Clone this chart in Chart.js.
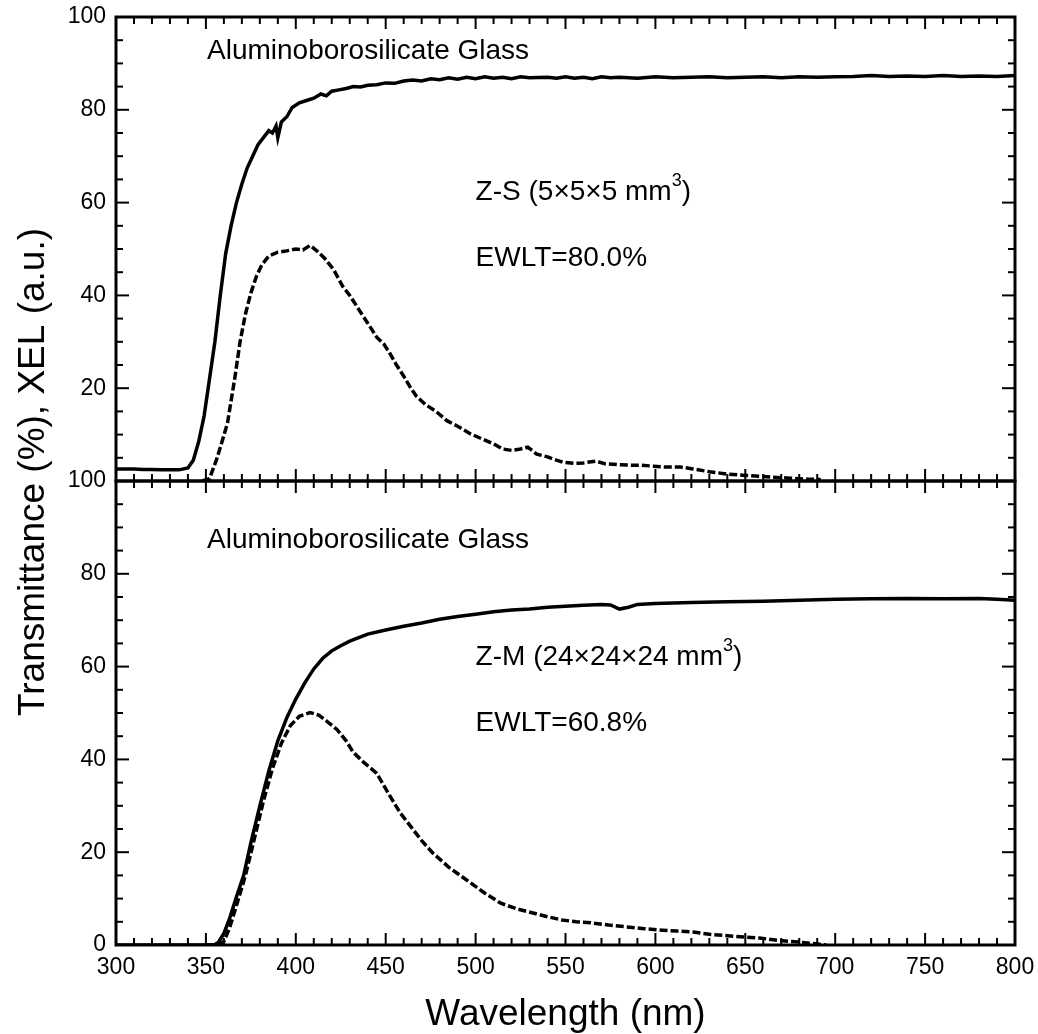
<!DOCTYPE html>
<html>
<head>
<meta charset="utf-8">
<script src="https://cdn.jsdelivr.net/npm/chart.js@4.4.1/dist/chart.umd.min.js"></script>
<style>
  html, body { margin: 0; padding: 0; background: #fff; }
  #wrap { position: relative; width: 1038px; height: 1034px; }
</style>
</head>
<body>
<div id="wrap"><canvas id="myChart" width="1038" height="1034"></canvas></div>
<script>
// tick labels
const xTickLabels = [300, 350, 400, 450, 500, 550, 600, 650, 700, 750, 800];
const yTickLabels = [0, 20, 40, 60, 80, 100];

// Z-S (top panel): transmittance, solid
const tsWl = [300, 305, 310, 315, 320, 325, 330, 335, 340, 343, 346, 349, 352, 355, 358, 361, 364, 367, 370, 373,
  376, 379, 382, 385, 387, 389, 390, 392, 395, 398, 402, 406, 410, 414, 417, 420, 424, 428, 432, 436,
  440, 445, 450, 455, 460, 465, 470, 475, 480, 485, 490, 495, 500, 505, 510, 515, 520, 525, 530, 540,
  545, 550, 555, 560, 565, 570, 575, 580, 590, 600, 610, 620, 630, 640, 650, 660, 670, 680, 690, 700,
  710, 720, 730, 740, 750, 760, 770, 780, 790, 800];
const tsVal = [2.6, 2.6, 2.6, 2.5, 2.5, 2.4, 2.4, 2.4, 2.8, 4.5, 8.5, 14, 22, 30, 40, 49, 55, 60, 64, 67.5,
  70, 72.5, 74, 75.5, 75, 76.5, 74, 77.4, 78.5, 80.5, 81.5, 82, 82.5, 83.4, 83, 84, 84.3, 84.6, 85, 84.9,
  85.3, 85.4, 85.8, 85.7, 86.2, 86.4, 86.2, 86.7, 86.5, 86.9, 86.6, 87, 86.7, 87.1, 86.8, 87, 86.7, 87.1, 86.9, 87,
  86.8, 87.1, 86.8, 87, 86.7, 87.1, 86.9, 87, 86.8, 87.1, 86.9, 87, 87.1, 86.9, 87, 87.1, 86.9, 87.1, 87, 87.1,
  87.2, 87.4, 87.2, 87.3, 87.2, 87.4, 87.2, 87.3, 87.2, 87.4];

// Z-S (top panel): XEL, dashed
const xsWl = [348, 352, 356, 359, 362, 366, 369, 372, 375, 378, 381, 385, 390, 395, 400, 404, 408, 412, 416, 421,
  426, 430, 434, 440, 445, 449, 452, 456, 460, 464, 467, 472, 478, 484, 490, 497, 504, 510, 515, 520,
  525, 529, 534, 540, 545, 549, 555, 560, 567, 572, 580, 586, 592, 599, 606, 614, 621, 630, 640, 650,
  662, 675, 685, 692];
const xsVal = [0, 0.5, 4.7, 8.5, 12.5, 22, 30, 36, 40.5, 44, 46.5, 48.5, 49.3, 49.6, 50, 49.8, 50.8, 49.5, 48, 45.6,
  42, 40, 37.6, 34, 31, 29.5, 27.7, 25, 22.6, 20, 18.3, 16.5, 15, 13, 11.8, 10.2, 9, 8, 6.9, 6.6,
  6.9, 7.3, 5.8, 5.2, 4.5, 4, 3.8, 3.9, 4.3, 3.7, 3.5, 3.4, 3.4, 3.2, 3, 3, 2.6, 2, 1.5, 1.2,
  0.9, 0.6, 0.4, 0.3];

// Z-M (bottom panel): transmittance, solid
const tmWl = [300, 350, 355, 357, 360, 363, 367, 371, 375, 380, 385, 390, 395, 400, 405, 410, 415, 420, 425, 430,
  440, 450, 460, 470, 480, 490, 500, 510, 520, 530, 540, 550, 560, 570, 575, 580, 585, 590, 600, 620,
  640, 660, 680, 700, 720, 740, 760, 780, 790, 800];
const tmVal = [0, 0, 0.1, 0.6, 2.5, 5.5, 10.4, 15, 22, 30, 37.5, 44, 49, 53, 56.5, 59.5, 61.8, 63.4, 64.5, 65.5,
  67, 67.9, 68.7, 69.4, 70.2, 70.8, 71.3, 71.8, 72.2, 72.4, 72.8, 73, 73.2, 73.4, 73.3, 72.4, 72.8, 73.4, 73.6, 73.8,
  74, 74.1, 74.3, 74.5, 74.6, 74.7, 74.6, 74.7, 74.5, 74.3];

// Z-M (bottom panel): XEL, dashed
const xmWl = [357, 360, 363, 367, 372, 377, 382, 387, 392, 397, 402, 408, 413, 418, 423, 428, 432, 438, 445, 451,
  458, 464, 470, 476, 485, 495, 505, 514, 523, 532, 540, 548, 556, 564, 574, 584, 594, 604, 612, 621,
  630, 640, 650, 658, 668, 678, 688, 695];
const xmVal = [0, 0.8, 3.5, 8.5, 15, 23, 31, 38, 43.5, 47.3, 49.3, 50.1, 49.5, 48, 46.4, 44, 41.5, 39.3, 37, 33,
  28.5, 25.5, 22.5, 19.9, 16.8, 14, 11.2, 9, 7.8, 6.9, 6.1, 5.4, 5, 4.8, 4.3, 3.9, 3.5, 3.2, 3, 2.8,
  2.3, 2, 1.7, 1.5, 1, 0.7, 0.3, 0];

// panel texts
const panelTexts = [
  { axis: "y1", x: 350.6, y: 92.7, text: "Aluminoborosilicate Glass" },
  { axis: "y1", x: 500, y: 62.3, text: "Z-S (5\u00d75\u00d75 mm", sup: "3", tail: ")" },
  { axis: "y1", x: 500, y: 48.1, text: "EWLT=80.0%" },
  { axis: "y2", x: 350.6, y: 87.3, text: "Aluminoborosilicate Glass" },
  { axis: "y2", x: 500, y: 62, text: "Z-M (24\u00d724\u00d724 mm", sup: "3", tail: ")" },
  { axis: "y2", x: 500, y: 47.7, text: "EWLT=60.8%" },
];

const FONT = "'Liberation Sans', Arial, Helvetica, sans-serif";

const toPoints = (wl, val) => wl.map((w, i) => ({ x: w, y: val[i] }));

// frame, inward ticks on all sides, and the texts
const frameTicks = {
  id: "frameTicks",
  afterDatasetsDraw(chart) {
    const ctx = chart.ctx;
    const xs = chart.scales.x;
    const area = chart.chartArea;
    const line = (x0, y0, x1, y1) => {
      ctx.beginPath();
      ctx.moveTo(x0, y0);
      ctx.lineTo(x1, y1);
      ctx.stroke();
    };
    ctx.save();
    ctx.strokeStyle = "#000";
    ctx.lineCap = "butt";
    ["y1", "y2"].forEach((id) => {
      const ys = chart.scales[id];
      const top = ys.top;
      const bottom = ys.bottom;
      ctx.lineWidth = 2;
      for (let v = xs.min; v <= xs.max; v += 10) {
        const px = xs.getPixelForValue(v);
        const len = v % 50 === 0 ? 12 : 7;
        line(px, top, px, top + len);
        line(px, bottom, px, bottom - len);
      }
      for (let v = ys.min; v <= ys.max; v += 5) {
        const py = ys.getPixelForValue(v);
        const len = v % 20 === 0 ? 13 : 7;
        line(area.left, py, area.left + len, py);
        line(area.right, py, area.right - len, py);
      }
      ctx.lineWidth = 3;
      ctx.strokeRect(area.left, top, area.right - area.left, bottom - top);
    });

    ctx.fillStyle = "#000";
    ctx.textAlign = "left";
    ctx.textBaseline = "middle";
    panelTexts.forEach((t) => {
      const px = xs.getPixelForValue(t.x);
      const py = chart.scales[t.axis].getPixelForValue(t.y);
      ctx.font = "28px " + FONT;
      ctx.fillText(t.text, px, py);
      if (t.sup) {
        let w = ctx.measureText(t.text).width;
        ctx.font = "18px " + FONT;
        ctx.fillText(t.sup, px + w, py - 11);
        w += ctx.measureText(t.sup).width;
        ctx.font = "28px " + FONT;
        ctx.fillText(t.tail, px + w, py);
      }
    });

    // axis titles
    ctx.font = "37px " + FONT;
    ctx.textAlign = "center";
    ctx.textBaseline = "alphabetic";
    ctx.fillText("Wavelength (nm)", (area.left + area.right) / 2, 1025);
    ctx.save();
    ctx.translate(44, (area.top + area.bottom) / 2 - 9);
    ctx.rotate(-Math.PI / 2);
    ctx.fillText("Transmittance (%), XEL (a.u.)", 0, 0);
    ctx.restore();
    ctx.restore();
  },
};

const solid = { borderColor: "#000", borderWidth: 3.5, pointRadius: 0, tension: 0, fill: false };
const dashed = { ...solid, borderDash: [8, 3] };

const yAxis = (hideZero, weight) => ({
  type: "linear",
  position: "left",
  stack: "panels",
  stackWeight: 1,
  weight: weight,
  min: 0,
  max: 100,
  afterBuildTicks: (scale) => {
    scale.ticks = yTickLabels.map((v) => ({ value: v }));
  },
  afterFit: (scale) => {
    scale.width = 116;
    scale.paddingTop = 0;
    scale.paddingBottom = 0;
  },
  grid: { display: false, drawTicks: false },
  border: { display: false },
  ticks: {
    padding: 10,
    color: "#000",
    font: { family: FONT, size: 23 },
    callback: (v) => (hideZero && v === 0 ? "" : String(v)),
  },
});

const ctx = document.getElementById("myChart").getContext("2d");
const myChart = new Chart(ctx, {
  type: "line",
  data: {
    datasets: [
      { ...solid, label: "T Z-S", data: toPoints(tsWl, tsVal), yAxisID: "y1" },
      { ...dashed, label: "XEL Z-S", data: toPoints(xsWl, xsVal), yAxisID: "y1" },
      { ...solid, label: "T Z-M", data: toPoints(tmWl, tmVal), yAxisID: "y2" },
      { ...dashed, label: "XEL Z-M", data: toPoints(xmWl, xmVal), yAxisID: "y2" },
    ],
  },
  options: {
    responsive: false,
    animation: false,
    devicePixelRatio: 1,
    layout: { padding: { top: 17, right: 23, left: 0, bottom: 0 } },
    plugins: {
      legend: { display: false },
      tooltip: { enabled: false },
    },
    scales: {
      x: {
        type: "linear",
        position: "bottom",
        min: 300,
        max: 800,
        afterBuildTicks: (scale) => {
          scale.ticks = xTickLabels.map((v) => ({ value: v }));
        },
        afterFit: (scale) => {
          scale.height = 89;
          scale.paddingLeft = 0;
          scale.paddingRight = 0;
        },
        grid: { display: false, drawTicks: false },
        border: { display: false },
        ticks: {
          padding: 9,
          color: "#000",
          maxRotation: 0,
          font: { family: FONT, size: 23 },
        },
      },
      y1: yAxis(true, 1),
      y2: yAxis(false, 0),
    },
  },
  plugins: [frameTicks],
});
</script>
</body>
</html>
